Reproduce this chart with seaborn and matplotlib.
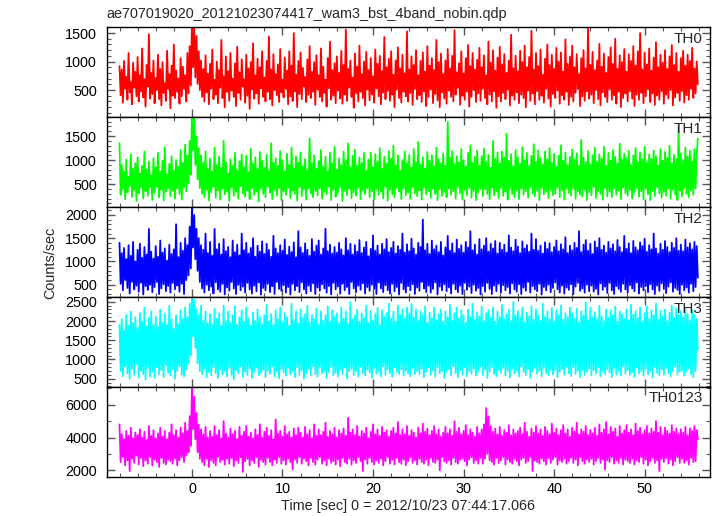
import matplotlib
matplotlib.use('Agg')
import matplotlib.pyplot as plt
from matplotlib.ticker import MultipleLocator
import seaborn as sns
import numpy as np
import pandas as pd

# light curves, 0.125 s bins starting at t = -8 s
t_start = -8.0
t_bin = 0.125

th0 = [
    920, 410, 860, 280, 1010, 520, 730, 330, 1150, 460, 640, 250, 980, 540, 820, 390,
    1080, 300, 760, 480, 1230, 370, 690, 210, 940, 560, 1480, 350, 800, 430, 1020, 270,
    710, 500, 1120, 340, 870, 230, 990, 450, 620, 310, 1190, 520, 780, 180, 930, 400,
    1300, 360, 840, 470, 700, 260, 1060, 390, 910, 520, 760, 300, 1150, 440, 1270, 580,
    1650, 900, 1600, 720, 1450, 610, 1180, 500, 1020, 380, 870, 300, 1110, 460, 790, 250,
    960, 520, 1210, 340, 680, 420, 1000, 270, 850, 540, 1380, 360, 740, 200, 1090, 470,
    830, 310, 1150, 490, 700, 380, 970, 220, 1260, 450, 810, 330, 1040, 560, 690, 280,
    1120, 400, 880, 170, 990, 510, 1320, 350, 760, 440, 1050, 260, 900, 530, 1180, 380,
    720, 300, 1010, 470, 1440, 340, 860, 230, 1130, 500, 780, 410, 950, 290, 1220, 460,
    680, 370, 1070, 520, 840, 250, 1180, 390, 930, 310, 1500, 480, 770, 200, 1010, 430,
    1160, 340, 890, 560, 730, 290, 1040, 420, 1270, 360, 820, 470, 990, 240, 1110, 510,
    760, 380, 1230, 300, 910, 450, 680, 210, 1060, 530, 1350, 330, 850, 400, 970, 270,
    1090, 490, 800, 350, 1190, 260, 940, 420, 1560, 310, 870, 540, 1020, 380, 720, 190,
    1140, 440, 910, 300, 1280, 470, 780, 360, 1000, 230, 1170, 510, 850, 320, 1060, 420,
    740, 280, 1210, 530, 960, 390, 1100, 250, 830, 460, 1430, 340, 900, 490, 1050, 310,
    1180, 420, 770, 200, 1020, 510, 1250, 360, 880, 280, 1120, 470, 790, 390, 1530, 300,
    860, 450, 1090, 240, 940, 520, 1200, 340, 760, 410, 1010, 290, 1160, 480, 820, 220,
    1270, 380, 930, 510, 1060, 270, 850, 430, 1380, 320, 990, 200, 1140, 460, 780, 350,
    1020, 260, 1220, 490, 880, 380, 1100, 300, 1550, 420, 810, 540, 970, 240, 1180, 400,
    790, 330, 1060, 470, 1290, 210, 920, 380, 1150, 500, 860, 290, 1030, 440, 1240, 310,
    900, 520, 1110, 360, 760, 250, 1350, 420, 980, 300, 1200, 480, 840, 190, 1070, 390,
    1260, 300, 950, 450, 1130, 340, 800, 510, 1020, 230, 1470, 400, 880, 330, 1100, 460,
    830, 270, 1190, 420, 990, 360, 1280, 200, 900, 490, 1080, 310, 1540, 440, 860, 250,
    1150, 480, 920, 330, 1210, 400, 770, 280, 1050, 520, 1300, 350, 940, 210, 1120, 430,
    870, 360, 1240, 490, 1000, 260, 1160, 410, 820, 330, 1390, 470, 960, 240, 1090, 380,
    1280, 300, 900, 450, 1130, 520, 780, 220, 1060, 390, 1200, 310, 880, 480, 1580, 350,
    940, 420, 1170, 270, 850, 500, 1020, 340, 1310, 230, 910, 460, 1140, 380, 800, 290,
    1080, 510, 1250, 330, 960, 410, 1400, 260, 870, 470, 1110, 200, 990, 360, 1220, 440,
    820, 300, 1130, 480, 1010, 350, 1270, 220, 930, 420, 1180, 330, 1500, 450, 860, 270,
    1160, 390, 950, 510, 1230, 290, 840, 440, 1070, 240, 1340, 400, 900, 330, 1120, 480,
    980, 260, 1200, 420, 870, 350, 1090, 500, 1290, 230, 940, 370, 1150, 450, 820, 310,
    1060, 480, 1190, 280, 930, 410, 1120, 330, 1010, 520, 1240, 360, 880, 440, 1000, 600]

th1 = [
    1350, 280, 900, 400, 760, 190, 1010, 330, 650, 470, 1120, 240, 830, 380, 940, 150,
    1060, 310, 720, 430, 880, 200, 1180, 350, 800, 260, 970, 440, 690, 170, 1040, 320,
    850, 450, 1150, 230, 760, 380, 990, 160, 1270, 340, 700, 420, 920, 250, 1080, 360,
    780, 200, 1000, 410, 860, 300, 1210, 180, 940, 440, 1320, 350, 1100, 520, 1400, 700,
    1900, 1200, 1880, 900, 1500, 600, 1250, 420, 1100, 300, 950, 230, 1180, 380, 820, 160,
    1030, 330, 760, 450, 1260, 220, 900, 370, 1080, 180, 840, 410, 1400, 290, 960, 350,
    720, 150, 1020, 430, 880, 260, 1150, 340, 790, 200, 980, 460, 1120, 310, 860, 240,
    1090, 370, 750, 190, 1240, 420, 930, 280, 1060, 350, 820, 140, 1170, 400, 990, 300,
    840, 230, 1110, 450, 770, 320, 1350, 190, 950, 380, 1040, 260, 880, 420, 1190, 170,
    1000, 350, 760, 280, 1130, 430, 900, 210, 1260, 370, 830, 300, 1080, 160, 950, 440,
    1160, 250, 870, 390, 1020, 180, 790, 420, 1450, 310, 940, 230, 1100, 360, 820, 270,
    980, 410, 1210, 200, 860, 340, 1070, 290, 760, 450, 1150, 170, 930, 380, 1280, 240,
    800, 320, 1040, 440, 900, 150, 1180, 360, 1000, 270, 1350, 400, 850, 210, 1090, 330,
    1220, 260, 880, 430, 1060, 190, 940, 370, 1150, 300, 780, 420, 1010, 230, 1160, 350,
    860, 180, 1120, 400, 970, 280, 1250, 340, 820, 210, 1070, 450, 930, 160, 1190, 380,
    1030, 290, 1300, 230, 890, 420, 1100, 350, 780, 190, 1000, 410, 1180, 270, 940, 330,
    1110, 200, 850, 440, 1230, 310, 960, 250, 1380, 370, 900, 180, 1060, 430, 820, 290,
    1170, 360, 990, 220, 1100, 400, 870, 300, 1260, 170, 1020, 390, 930, 260, 1140, 340,
    880, 230, 1800, 410, 1050, 280, 1190, 350, 920, 200, 1080, 440, 960, 310, 1230, 180,
    1000, 380, 870, 270, 1150, 420, 1300, 220, 940, 360, 1070, 170, 1200, 330, 890, 400,
    1080, 250, 1240, 390, 960, 300, 1110, 190, 840, 430, 1400, 270, 1020, 350, 1160, 210,
    930, 420, 1180, 260, 1050, 340, 1550, 180, 980, 400, 1120, 300, 870, 230, 1210, 370,
    1060, 190, 920, 410, 1270, 280, 1000, 350, 1150, 220, 880, 440, 1090, 310, 1330, 250,
    970, 360, 1200, 170, 1040, 420, 910, 290, 1180, 340, 1020, 210, 1250, 380, 950, 270,
    1130, 300, 860, 430, 1090, 230, 1310, 370, 990, 180, 1160, 410, 900, 320, 1070, 260,
    1220, 400, 1010, 200, 1140, 350, 880, 290, 1420, 240, 1050, 390, 960, 170, 1190, 330,
    910, 270, 1100, 440, 1260, 210, 970, 360, 1120, 300, 1030, 180, 1280, 420, 880, 250,
    1150, 340, 990, 230, 1210, 410, 1070, 280, 930, 370, 1340, 190, 1010, 430, 1130, 310,
    1040, 260, 1190, 380, 900, 200, 1100, 330, 1250, 420, 960, 240, 1160, 350, 1020, 190,
    1280, 400, 950, 290, 1120, 170, 1030, 360, 1200, 250, 1080, 430, 890, 310, 1230, 220,
    990, 340, 1170, 260, 1050, 410, 1300, 200, 940, 380, 1110, 290, 1020, 170, 1720, 360,
    1140, 250, 1000, 420, 1260, 300, 1080, 230, 1190, 370, 970, 280, 1230, 410, 1100, 1450]

th2 = [
    1400, 520, 1180, 380, 1290, 600, 1050, 430, 1350, 310, 1120, 560, 1420, 400, 1000, 480,
    1250, 350, 1380, 540, 1080, 290, 1310, 470, 1150, 390, 1700, 500, 1210, 340, 1060, 450,
    1330, 560, 1100, 300, 1450, 420, 1190, 510, 1280, 360, 1020, 470, 1360, 330, 1160, 540,
    1260, 400, 1800, 480, 1090, 350, 1400, 520, 1230, 300, 1500, 600, 1350, 700, 1750, 850,
    2150, 1300, 2000, 1050, 1700, 800, 1500, 560, 1350, 420, 1250, 330, 1600, 500, 1180, 380,
    1420, 460, 1120, 310, 1700, 550, 1260, 400, 1380, 350, 1150, 520, 1480, 290, 1220, 440,
    1310, 370, 1090, 560, 1450, 420, 1200, 300, 1360, 500, 1130, 380, 1600, 460, 1240, 330,
    1400, 540, 1170, 400, 1290, 310, 1500, 480, 1100, 360, 1340, 550, 1210, 290, 1430, 430,
    1160, 380, 1380, 520, 1250, 340, 1100, 470, 1550, 300, 1280, 560, 1180, 410, 1350, 370,
    1230, 490, 1470, 330, 1140, 450, 1320, 290, 1200, 520, 1410, 380, 1090, 470, 1650, 340,
    1300, 550, 1180, 400, 1390, 310, 1250, 480, 1120, 360, 1480, 530, 1210, 300, 1340, 440,
    1450, 370, 1150, 510, 1280, 420, 1700, 330, 1220, 470, 1360, 290, 1170, 540, 1310, 400,
    1190, 460, 1400, 310, 1260, 520, 1130, 380, 1500, 450, 1240, 300, 1380, 560, 1150, 420,
    1350, 340, 1210, 480, 1460, 390, 1180, 530, 1300, 310, 1420, 450, 1110, 370, 1270, 500,
    1560, 410, 1230, 300, 1340, 550, 1150, 420, 1380, 340, 1260, 490, 1480, 380, 1200, 310,
    1290, 520, 1420, 360, 1170, 450, 1330, 290, 1250, 540, 1600, 400, 1190, 330, 1370, 470,
    1220, 380, 1490, 510, 1280, 300, 1150, 440, 1400, 370, 1310, 560, 1900, 420, 1240, 340,
    1380, 480, 1160, 330, 1450, 410, 1260, 550, 1340, 290, 1200, 460, 1420, 380, 1130, 510,
    1300, 360, 1550, 440, 1230, 310, 1390, 520, 1180, 400, 1470, 340, 1270, 480, 1350, 300,
    1190, 540, 1420, 390, 1300, 460, 1650, 320, 1240, 500, 1360, 370, 1150, 430, 1480, 290,
    1260, 470, 1340, 350, 1500, 540, 1210, 410, 1380, 300, 1280, 480, 1440, 360, 1170, 520,
    1400, 330, 1250, 490, 1360, 380, 1190, 450, 1560, 310, 1300, 530, 1220, 400, 1470, 350,
    1320, 510, 1180, 300, 1430, 440, 1280, 370, 1350, 560, 1210, 330, 1600, 470, 1250, 400,
    1480, 360, 1230, 520, 1340, 290, 1170, 450, 1410, 380, 1270, 500, 1390, 340, 1200, 430,
    1310, 550, 1450, 400, 1220, 330, 1370, 480, 1260, 310, 1520, 440, 1180, 390, 1340, 510,
    1240, 300, 1400, 460, 1290, 540, 1650, 370, 1200, 420, 1360, 330, 1460, 500, 1230, 360,
    1380, 480, 1160, 350, 1430, 410, 1300, 290, 1500, 530, 1250, 390, 1340, 460, 1190, 320,
    1420, 540, 1280, 380, 1370, 300, 1220, 470, 1460, 410, 1310, 350, 1200, 520, 1550, 400,
    1270, 330, 1390, 490, 1180, 420, 1440, 360, 1300, 550, 1240, 310, 1410, 450, 1330, 380,
    1490, 470, 1210, 340, 1350, 510, 1260, 400, 1600, 300, 1280, 480, 1170, 370, 1380, 530,
    1250, 410, 1440, 320, 1310, 460, 1200, 550, 1400, 350, 1290, 430, 1500, 390, 1230, 300,
    1360, 500, 1220, 380, 1470, 440, 1300, 330, 1390, 520, 1260, 360, 1420, 450, 1330, 650]

th3 = [
    1900, 700, 2050, 560, 1750, 820, 2150, 640, 1880, 500, 2250, 760, 1950, 600, 2100, 880,
    1820, 540, 2200, 700, 1980, 620, 2350, 480, 1860, 780, 2080, 560, 2250, 680, 1900, 520,
    2120, 800, 1850, 610, 2300, 720, 1960, 540, 2180, 850, 1900, 650, 2400, 580, 2050, 760,
    1800, 500, 2150, 700, 1920, 820, 2280, 610, 2050, 560, 2350, 750, 2100, 900, 2450, 1100,
    2600, 1600, 2550, 1300, 2300, 900, 2150, 700, 2400, 620, 2000, 760, 2250, 540, 1950, 680,
    2180, 590, 1900, 800, 2320, 650, 2050, 520, 2200, 740, 1880, 610, 2400, 700, 2000, 560,
    2250, 780, 1950, 600, 2150, 480, 2380, 720, 1900, 640, 2100, 820, 2280, 550, 1980, 690,
    2350, 600, 2060, 760, 1880, 520, 2220, 680, 2000, 800, 2300, 590, 2100, 650, 1920, 730,
    2150, 540, 2420, 700, 1990, 630, 2180, 820, 1900, 560, 2280, 690, 2050, 510, 2350, 750,
    1960, 660, 2200, 580, 2100, 780, 1880, 620, 2450, 700, 2030, 540, 2250, 800, 1940, 600,
    2300, 720, 2080, 500, 2180, 650, 2400, 760, 1960, 590, 2150, 830, 2050, 620, 2330, 550,
    1900, 780, 2250, 640, 2020, 700, 2150, 520, 2380, 680, 1980, 810, 2280, 590, 2100, 650,
    2200, 560, 1950, 740, 2350, 620, 2060, 800, 2250, 510, 1920, 690, 2500, 760, 2040, 600,
    2150, 700, 2300, 550, 1980, 820, 2200, 640, 2080, 580, 2400, 730, 1950, 660, 2250, 520,
    2020, 780, 2180, 630, 2350, 700, 1900, 560, 2280, 820, 2100, 600, 2200, 740, 2450, 650,
    2060, 550, 2250, 800, 1980, 680, 2400, 620, 2150, 750, 2300, 580, 2050, 700, 2350, 640,
    2200, 560, 2450, 780, 2100, 620, 2300, 700, 2000, 620, 2250, 760, 2150, 540, 2380, 680,
    1950, 790, 2220, 600, 2080, 720, 2350, 560, 2020, 800, 2180, 640, 2300, 700, 1980, 520,
    2250, 680, 2100, 760, 2420, 590, 2000, 820, 2200, 650, 2350, 540, 2060, 720, 2280, 610,
    2150, 800, 1960, 560, 2300, 700, 2100, 630, 2450, 760, 2030, 580, 2230, 690, 2120, 820,
    2380, 600, 2000, 740, 2200, 520, 2280, 680, 2080, 800, 2350, 620, 1980, 570, 2250, 730,
    2100, 650, 2420, 780, 2050, 590, 2180, 710, 2300, 530, 2000, 760, 2500, 640, 2150, 700,
    2260, 560, 2080, 820, 2350, 680, 1950, 600, 2220, 750, 2120, 520, 2380, 690, 2040, 780,
    2300, 630, 2150, 700, 2000, 560, 2450, 800, 2100, 650, 2250, 590, 2050, 740, 2330, 610,
    1980, 720, 2280, 540, 2150, 680, 2400, 760, 2030, 600, 2200, 820, 2100, 640, 2350, 570,
    2200, 800, 2050, 620, 2320, 700, 1960, 550, 2250, 730, 2150, 600, 2480, 680, 2020, 760,
    2350, 590, 2100, 720, 2230, 640, 2050, 800, 2400, 560, 2120, 690, 2000, 620, 2300, 750,
    2080, 660, 2280, 540, 2150, 780, 2380, 610, 1990, 700, 2250, 580, 2180, 820, 2050, 640,
    2300, 720, 2020, 600, 2420, 680, 2160, 550, 2250, 790, 2080, 640, 2350, 700, 1970, 580,
    2200, 760, 2380, 620, 2050, 700, 2280, 530, 2150, 810, 2450, 650, 2030, 590, 2260, 740,
    2120, 600, 2300, 780, 2000, 640, 2220, 560, 2400, 700, 2080, 820, 2330, 610, 2150, 680,
    2250, 720, 2100, 580, 2350, 690, 2180, 760, 2020, 620, 2280, 540, 2150, 700, 2050, 1250]

th0123 = [
    4800, 2500, 4200, 2800, 3900, 2300, 4400, 2600, 4100, 1950, 4600, 2700, 3950, 2450, 4300, 2900,
    4150, 2350, 4500, 2750, 4000, 2250, 4350, 2600, 3850, 2400, 4700, 2800, 4100, 2300, 4450, 2650,
    3950, 2500, 4250, 2200, 4600, 2750, 4050, 2450, 4400, 2350, 3900, 2650, 4300, 2550, 4800, 2400,
    4150, 2700, 4450, 2300, 4000, 2600, 4600, 2800, 4250, 2500, 4900, 2900, 4400, 3100, 5300, 3500,
    7000, 4500, 6500, 3900, 5500, 3100, 4800, 2700, 4500, 2500, 4200, 2300, 4650, 2700, 4000, 2200,
    4400, 2600, 4050, 2450, 4700, 2300, 4150, 2800, 4450, 2500, 3950, 2650, 5000, 2350, 4250, 2700,
    4000, 2400, 4550, 2750, 4200, 2250, 4400, 2600, 3900, 2450, 4650, 2800, 4100, 1900, 4350, 2550,
    4700, 2700, 4050, 2300, 4300, 2600, 3950, 2450, 4500, 2800, 4150, 2200, 4800, 2650, 4000, 2500,
    4350, 2350, 4600, 2750, 4100, 2500, 4450, 2300, 3900, 2650, 5100, 2450, 4250, 2800, 4400, 2400,
    4050, 2600, 4700, 2350, 4200, 2700, 4350, 2500, 4000, 2050, 4550, 2650, 4150, 2450, 4600, 2800,
    4300, 2400, 4000, 2700, 4650, 2550, 4200, 2300, 4450, 2750, 3950, 2500, 4800, 2350, 4100, 2650,
    4500, 2800, 4150, 2400, 4350, 2600, 4900, 2300, 4050, 2700, 4400, 2450, 4200, 2550, 4600, 2350,
    4000, 2650, 4450, 2250, 4250, 2750, 4550, 2500, 4100, 2400, 5200, 2700, 4300, 2350, 4500, 2600,
    4150, 2450, 4700, 2800, 4050, 2550, 4400, 1950, 4250, 2650, 4600, 2400, 3950, 2750, 4350, 2500,
    4800, 2350, 4200, 2600, 4500, 2450, 4100, 2700, 4650, 2300, 4300, 2550, 4450, 2800, 4050, 2400,
    4400, 2650, 4600, 2350, 4250, 2750, 4950, 2500, 4150, 2400, 4500, 2650, 4200, 2300, 4700, 2550,
    4100, 2800, 4450, 2450, 4300, 2600, 4000, 2350, 4600, 2700, 4250, 2500, 4850, 2400, 4350, 2650,
    4550, 2300, 4150, 2750, 4400, 2500, 4700, 2450, 4200, 2650, 4500, 2000, 4050, 2800, 4300, 2550,
    4650, 2450, 4250, 2600, 4500, 2350, 4100, 2750, 5000, 2500, 4350, 2400, 4600, 2650, 4200, 2700,
    4400, 2550, 4750, 2300, 4150, 2650, 4500, 2800, 4300, 2450, 4050, 2600, 4650, 2400, 4250, 2750,
    4500, 2400, 4800, 2700, 5800, 3000, 5300, 2600, 4700, 2500, 4350, 2350, 4550, 2750, 4200, 2450,
    4650, 2600, 4100, 2800, 4450, 2350, 4300, 2650, 4750, 2500, 4150, 2400, 4500, 2700, 4250, 2550,
    4400, 2300, 4600, 2650, 4200, 2750, 4900, 2450, 4350, 2550, 4050, 2800, 4550, 1950, 4300, 2600,
    4700, 2500, 4250, 2400, 4500, 2700, 4100, 2550, 4650, 2350, 4400, 2750, 4200, 2450, 4850, 2650,
    4300, 2800, 4550, 2350, 4150, 2600, 4450, 2500, 4750, 2700, 4250, 2400, 4500, 2550, 4050, 2750,
    4600, 2450, 4350, 2650, 4900, 2300, 4200, 2800, 4500, 2550, 4350, 2400, 4700, 2650, 4150, 2500,
    4450, 2700, 4250, 2350, 4600, 2550, 4100, 2750, 4800, 2450, 4300, 2650, 4500, 2050, 4950, 2600,
    4200, 2500, 4650, 2800, 4350, 2400, 4550, 2600, 4050, 2450, 4700, 2750, 4250, 2350, 4450, 2650,
    4750, 2550, 4300, 2450, 4500, 2700, 4150, 2350, 4850, 2600, 4400, 2500, 4600, 2800, 4200, 2400,
    4450, 2650, 4700, 2300, 4250, 2550, 4550, 2750, 4350, 2450, 5000, 2600, 4300, 1950, 4650, 2700,
    4150, 2500, 4600, 2750, 4400, 2400, 4250, 2650, 4750, 2300, 4350, 2550, 4550, 2800, 4200, 2450,
    4500, 2700, 4300, 2450, 4650, 2600, 4150, 2350, 4550, 2750, 4400, 2500, 4700, 2550, 4450, 3900]

bands = ['TH0', 'TH1', 'TH2', 'TH3', 'TH0123']
colors = ['#ff0000', '#00ff00', '#0000ff', '#00ffff', '#ff00ff']
ylims = [(30, 1610), (30, 1900), (240, 2175), (290, 2630), (1600, 7100)]
ymajor = [500, 500, 500, 500, 2000]
yminor = [100, 100, 100, 100, 1000]

sns.set_theme(style='ticks')
plt.rcParams['font.family'] = ['Liberation Sans', 'DejaVu Sans']
plt.rcParams['axes.linewidth'] = 1.0

fig, axes = plt.subplots(5, 1, figsize=(7.17, 5.16), dpi=100, sharex=True)
fig.subplots_adjust(left=0.149, right=0.990, top=0.948, bottom=0.076, hspace=0)

for ax, name, vals, c, yl, ymj, ymn in zip(axes, bands, [th0, th1, th2, th3, th0123],
                                          colors, ylims, ymajor, yminor):
    df = pd.DataFrame({'t': t_start + t_bin * np.arange(len(vals)), 'rate': vals})
    sns.lineplot(data=df, x='t', y='rate', estimator=None, sort=False,
                 color=c, lw=1.3, ax=ax)
    ax.set_xlim(-9.4, 57.2)
    ax.set_ylim(*yl)
    ax.yaxis.set_major_locator(MultipleLocator(ymj))
    ax.yaxis.set_minor_locator(MultipleLocator(ymn))
    ax.xaxis.set_major_locator(MultipleLocator(10))
    ax.xaxis.set_minor_locator(MultipleLocator(2))
    ax.tick_params(which='both', direction='in', top=True, right=True,
                   color='#555555', labelsize=10.4, labelcolor='black')
    ax.tick_params(axis='y', which='both', pad=7)
    ax.tick_params(axis='x', which='both', pad=4)
    ax.tick_params(which='major', length=6, width=1)
    ax.tick_params(which='minor', length=3, width=0.8)
    for s in ax.spines.values():
        s.set_color('black')
    ax.set_xlabel('')
    ax.set_ylabel('')
    ax.text(0.988, 0.87, name, transform=ax.transAxes, ha='right', va='center',
            fontsize=11)

fig.text(0.149, 0.973, 'ae707019020_20121023074417_wam3_bst_4band_nobin.qdp',
         ha='left', va='center', fontsize=10.4)
fig.text(0.07, 0.49, 'Counts/sec', rotation=90, ha='center', va='center', fontsize=10.4)
fig.text(0.569, 0.019, 'Time [sec] 0 = 2012/10/23 07:44:17.066', ha='center',
         va='center', fontsize=10.4)

plt.savefig('out.png', dpi=100)
